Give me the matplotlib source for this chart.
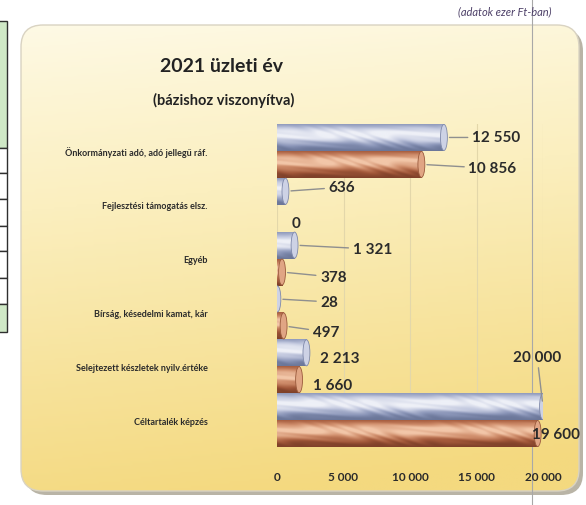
import numpy as np
import matplotlib
matplotlib.use("Agg")
import matplotlib.pyplot as plt
from matplotlib.colors import LinearSegmentedColormap
from matplotlib.patches import FancyBboxPatch, Rectangle, Ellipse

plt.rcParams["font.family"] = ["Lato", "DejaVu Sans"]

# data (ezer Ft)
categories = [
    "Önkormányzati adó, adó jellegű ráf.",
    "Fejlesztési támogatás elsz.",
    "Egyéb",
    "Bírság, késedelmi kamat, kár",
    "Selejtezett készletek nyilv.értéke",
    "Céltartalék képzés",
]
bazis = [12550, 636, 1321, 28, 2213, 20000]
teny = [10856, 0, 378, 497, 1660, 19600]
xticks = [0, 5000, 10000, 15000, 20000]

# label placement (pixels from bar end), leader line on/off
bazis_dx = [28, 43, 58, 43, 14, -30]
bazis_dy = [0, 4, -4, -3, -5, 50]
bazis_leader = [True, True, True, True, False, True]
teny_dx = [47, 15, 38, 29, 14, -6]
teny_dy = [-4, -5, -5, -6, -5, 0]
teny_leader = [True, False, True, True, False, False]

W, H = 586, 506
blue_cmap = LinearSegmentedColormap.from_list(
    "blue", ["#4a5678", "#8a95b8", "#c3c9df", "#eef0f7"])
copper_cmap = LinearSegmentedColormap.from_list(
    "copper", ["#5a2818", "#a2583a", "#d08e6c", "#f2c6a8"])


def fmt(v):
    return f"{v:,}".replace(",", " ")


def shade_bar(ax, patch, cmap, seed):
    # cylinder look: vertical light profile plus some streaks
    x0, y0 = patch.get_x(), patch.get_y()
    w, h = patch.get_width(), patch.get_height()
    if w <= 0:
        return
    t = np.linspace(0, 1, 40)[:, None]
    xs = np.linspace(0, w / 20000 * 266, max(int(w / 20000 * 266), 2))[None, :]
    prof = 0.15 + 0.85 * np.exp(-((t - 0.62) / 0.33) ** 2)
    streak = 0.10 * np.sin(xs / 7.0 + seed + 6 * np.sin(t * 5 + xs / 23.0))
    img = np.clip(prof + streak * np.sin(np.pi * t), 0, 1)
    im = ax.imshow(img, extent=[x0, x0 + w, y0, y0 + h], origin="lower",
                   cmap=cmap, vmin=0, vmax=1, aspect="auto", zorder=2,
                   interpolation="bilinear")
    im.set_clip_path(patch)


fig = plt.figure(figsize=(W / 100, H / 100), dpi=100)

# background: rounded yellow panel, table fragment on the left
bg = fig.add_axes([0, 0, 1, 1])
bg.set_xlim(0, W)
bg.set_ylim(H, 0)
bg.axis("off")

shadow = FancyBboxPatch((25, 30), 558, 466,
                        boxstyle="round,pad=0,rounding_size=22",
                        fc="#b9b4a6", ec="none", zorder=1)
bg.add_patch(shadow)
panel = FancyBboxPatch((21, 26), 558, 466,
                       boxstyle="round,pad=0,rounding_size=22",
                       fc="none", ec="#d9d3c2", lw=1.0, zorder=3)
bg.add_patch(panel)
gy = np.linspace(0, 1, 200)[:, None]
gx = np.linspace(0, 1, 200)[None, :]
grad = np.clip(0.15 + 0.8 * gy ** 0.9 + 0.1 * gx, 0, 1)
ycmap = LinearSegmentedColormap.from_list("y", ["#fffef6", "#fbefbf", "#f4d97f"])
bim = bg.imshow(grad, extent=[21, 579, 492, 26], cmap=ycmap, vmin=0, vmax=1,
                aspect="auto", zorder=2)
bim.set_clip_path(panel)

bg.add_patch(Rectangle((-2, 22), 9, 127, fc="#cfe8c6", ec="#2f2f2f", lw=1, zorder=2))
cells = [149, 174, 200, 227, 252, 279, 305, 333]
for i in range(len(cells) - 1):
    fc = "#cfe8c6" if i == len(cells) - 2 else "white"
    bg.add_patch(Rectangle((-2, cells[i]), 9, cells[i + 1] - cells[i],
                           fc=fc, ec="#2f2f2f", lw=1, zorder=2))
bg.plot([532, 532], [0, H], color="#a8a8a8", lw=0.8, zorder=4)

# chart
ax = fig.add_axes([277 / W, 1 - 448 / H, 266 / W, 323 / H])
ax.patch.set_alpha(0)
n = len(categories)
ypos = np.arange(n)[::-1]
bh = 0.5
bars_b = ax.barh(ypos + bh / 2, bazis, height=bh, color="#a9b2cc", zorder=2)
bars_t = ax.barh(ypos - bh / 2, teny, height=bh, color="#c5825e", zorder=2)

cap_w = 520
for bars, vals, cmap, capc, cape in [
        (bars_b, bazis, blue_cmap, "#cdd2e5", "#7f89aa"),
        (bars_t, teny, copper_cmap, "#e0a584", "#9a5a3c")]:
    for k, (p, v) in enumerate(zip(bars, vals)):
        shade_bar(ax, p, cmap, k * 1.7)
        if v > 0:
            ax.add_patch(Ellipse((v, p.get_y() + p.get_height() / 2),
                                 cap_w, p.get_height() * 0.97,
                                 fc=capc, ec=cape, lw=0.6, zorder=3))

for bars, vals, dxs, dys, leads in [
        (bars_b, bazis, bazis_dx, bazis_dy, bazis_leader),
        (bars_t, teny, teny_dx, teny_dy, teny_leader)]:
    for p, v, dx, dy, lead in zip(bars, vals, dxs, dys, leads):
        yc = p.get_y() + p.get_height() / 2
        ax.annotate(fmt(v), xy=(v, yc), xytext=(dx, dy),
                    textcoords="offset pixels", ha="left", va="center",
                    fontsize=11, fontweight="bold", color="#2b2b2b",
                    zorder=5, annotation_clip=False,
                    arrowprops=dict(arrowstyle="-", color="#8f8f8f", lw=1,
                                    shrinkA=1, shrinkB=4) if lead else None)

ax.set_xlim(0, 20000)
ax.set_ylim(-0.5, n - 0.5)
ax.set_xticks(xticks, [fmt(v) for v in xticks], fontsize=8.5,
              fontweight="bold", color="#2b2b2b")
ax.set_yticks(ypos, categories, fontsize=6.5, fontweight="bold", color="#2b2b2b")
ax.tick_params(axis="y", length=0, pad=50)
ax.tick_params(axis="x", length=0, pad=17)
ax.grid(axis="x", color="#e3d7aa", lw=0.8, zorder=0)
ax.set_axisbelow(True)
for s in ax.spines.values():
    s.set_visible(False)

fig.text(222 / W, 1 - 67 / H, "2021 üzleti év", ha="center", va="center",
         fontsize=14, fontweight="bold", color="#222222")
fig.text(224 / W, 1 - 100 / H, "(bázishoz viszonyítva)", ha="center",
         va="center", fontsize=10.5, fontweight="bold", color="#222222")
fig.text(552 / W, 1 - 12 / H, "(adatok ezer Ft-ban)", ha="right", va="center",
         fontsize=8, fontstyle="italic", color="#4d4068")

fig.savefig("out.png", dpi=100)
